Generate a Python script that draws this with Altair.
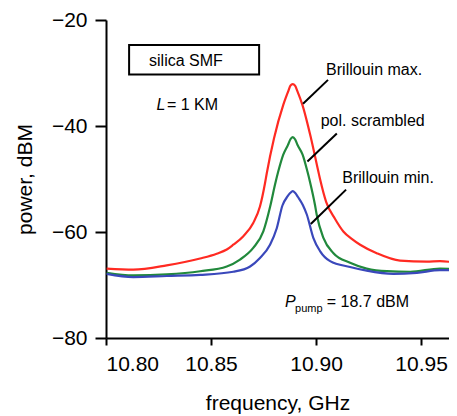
import altair as alt
import pandas as pd

# --- data ---
red_f = [10.8003, 10.8130, 10.8289, 10.8448, 10.8527, 10.8575, 10.8606, 10.8654, 10.8701, 10.8733,
         10.8757, 10.8765, 10.8800, 10.8844, 10.8867, 10.8878, 10.8889, 10.8900, 10.8912, 10.8935,
         10.8976, 10.9011, 10.9019, 10.9048, 10.9090, 10.9130, 10.9170, 10.9210, 10.9289, 10.9400,
         10.9527, 10.9590, 10.9670]
red_v = [-66.9, -67.1, -66.3, -65.0, -64.1, -63.3, -62.4, -60.8, -58.3, -55.2,
         -50.8, -49.0, -42.3, -36.0, -33.5, -32.4, -32.1, -32.4, -33.5, -36.0,
         -42.3, -48.6, -50.0, -54.3, -57.5, -59.9, -61.3, -62.4, -64.0, -65.4,
         -65.6, -65.5, -65.8]

green_f = [10.8003, 10.8130, 10.8289, 10.8448, 10.8575, 10.8638, 10.8701, 10.8749, 10.8781, 10.8805,
           10.8820, 10.8844, 10.8866, 10.8878, 10.8889, 10.8900, 10.8912, 10.8936, 10.8959, 10.8971,
           10.8995, 10.9003, 10.9035, 10.9083, 10.9162, 10.9241, 10.9337, 10.9448, 10.9590, 10.9670]
green_v = [-67.7, -68.2, -68.0, -67.4, -66.5, -65.2, -63.0, -59.9, -55.3, -51.0,
           -48.6, -45.4, -43.6, -42.5, -42.1, -42.5, -43.6, -45.4, -48.6, -50.5,
           -54.9, -56.7, -61.1, -64.0, -65.8, -66.9, -67.4, -67.5, -66.9, -67.1]

blue_f = [10.8003, 10.8130, 10.8289, 10.8448, 10.8606, 10.8686, 10.8733, 10.8781, 10.8813, 10.8840,
          10.8864, 10.8878, 10.8889, 10.8900, 10.8914, 10.8937, 10.8956, 10.8987, 10.9019, 10.9067,
          10.9162, 10.9241, 10.9368, 10.9480, 10.9590, 10.9670]
blue_v = [-67.9, -68.5, -68.3, -68.1, -67.5, -66.5, -64.9, -62.4, -59.3, -55.0,
          -53.3, -52.6, -52.3, -52.6, -53.4, -54.9, -56.7, -61.1, -63.6, -65.5,
          -66.6, -67.3, -67.9, -67.7, -67.2, -67.2]

series_names = ["Brillouin max.", "pol. scrambled", "Brillouin min."]
series_colors = ["#ff2a22", "#21893c", "#3a48bb"]

x_ticks = [10.80, 10.85, 10.90, 10.95]
y_ticks = [-80, -60, -40, -20]

# annotations (positions in data units)
label_f = [10.9048, 10.9022, 10.9125]
label_v = [-30.3, -40.0, -50.7]
ptr_f1 = [10.8938, 10.8959, 10.8975]
ptr_v1 = [-35.8, -46.7, -58.5]
ptr_f2 = [10.9057, 10.9099, 10.9143]
ptr_v2 = [-31.3, -41.4, -52.0]

FONT = "Liberation Sans"

rows = []
for name, fs, vs in zip(series_names, [red_f, green_f, blue_f], [red_v, green_v, blue_v]):
    for f, v in zip(fs, vs):
        rows.append({"f": f, "v": v, "series": name})
df = pd.DataFrame(rows)

X = alt.X("f:Q", scale=alt.Scale(domain=[10.80, 10.9633], nice=False, zero=False),
          axis=alt.Axis(values=x_ticks, format=".2f", title="frequency, GHz",
                        tickSize=7, labelPadding=8, titlePadding=18))
Y = alt.Y("v:Q", scale=alt.Scale(domain=[-80, -20], nice=False, zero=False),
          axis=alt.Axis(values=y_ticks, format="d", title="power, dBM",
                        tickSize=11, labelPadding=8, titlePadding=16))

lines = alt.Chart(df).mark_line(strokeWidth=2.2, clip=True, interpolate="monotone").encode(
    x=X, y=Y,
    color=alt.Color("series:N", scale=alt.Scale(domain=series_names, range=series_colors), legend=None),
    order="f:Q",
)

ptr_df = pd.DataFrame({"f": ptr_f1, "v": ptr_v1, "f2": ptr_f2, "v2": ptr_v2})
pointers = alt.Chart(ptr_df).mark_rule(color="black", strokeWidth=2).encode(
    x=X, y=Y, x2="f2:Q", y2="v2:Q")

lab_df = pd.DataFrame({"f": label_f, "v": label_v, "t": series_names})
labels = alt.Chart(lab_df).mark_text(align="left", baseline="alphabetic", font=FONT,
                                     fontSize=16, color="black").encode(x=X, y=Y, text="t:N")

box_df = pd.DataFrame({"f": [10.8110], "f2": [10.8729], "v": [-24.7], "v2": [-30.3]})
box = alt.Chart(box_df).mark_rect(fill="white", stroke="black", strokeWidth=2).encode(
    x=X, y=Y, x2="f2:Q", y2="v2:Q")

reg_df = pd.DataFrame({"f": [10.8205, 10.8290, 10.9051],
                       "v": [-28.75, -36.93, -74.17],
                       "t": ["silica SMF", "= 1 KM", "= 18.7 dBM"]})
reg_text = alt.Chart(reg_df).mark_text(align="left", baseline="alphabetic", font=FONT,
                                       fontSize=16, color="black").encode(x=X, y=Y, text="t:N")

ital_df = pd.DataFrame({"f": [10.8241, 10.8852], "v": [-36.93, -74.17], "t": ["L", "P"]})
ital_text = alt.Chart(ital_df).mark_text(align="left", baseline="alphabetic", font=FONT,
                                         fontSize=16, fontStyle="italic", color="black").encode(
    x=X, y=Y, text="t:N")

sub_df = pd.DataFrame({"f": [10.8900], "v": [-75.11], "t": ["pump"]})
sub_text = alt.Chart(sub_df).mark_text(align="left", baseline="alphabetic", font=FONT,
                                       fontSize=11, color="black").encode(x=X, y=Y, text="t:N")

chart = alt.layer(lines, pointers, labels, box, reg_text, ital_text, sub_text).properties(
    width=343, height=318,
    autosize=alt.AutoSizeParams(type="none"),
    padding={"left": 98, "top": 12, "right": 0, "bottom": 77},
).configure_view(stroke=None).configure_axis(
    grid=False, domainColor="black", domainWidth=2, tickColor="black", tickWidth=2,
    labelColor="black", labelFont=FONT, labelFontSize=21, titleFont=FONT, titleFontSize=21,
    titleFontWeight="normal", titleColor="black",
)

chart.save("out.html", embed_options={"renderer": "svg", "actions": False})
